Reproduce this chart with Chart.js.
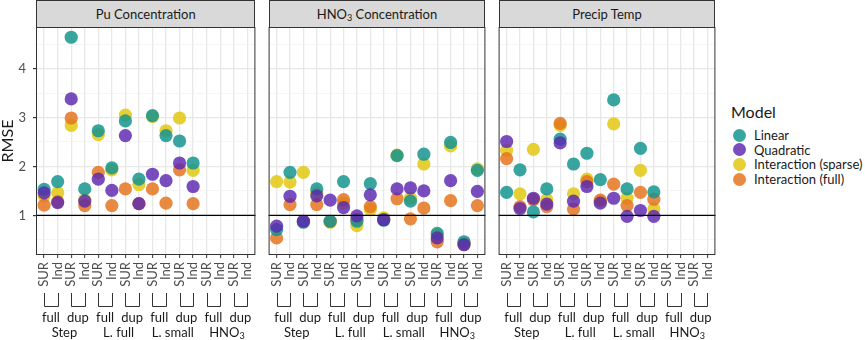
<!DOCTYPE html>
<html><head><meta charset="utf-8">
<script src="https://cdn.jsdelivr.net/npm/chart.js@4"></script>
<style>
html,body{margin:0;padding:0;background:#fff;}
#wrap{position:relative;width:865px;height:340px;overflow:hidden;font-family:Lato,sans-serif;}
canvas{position:absolute;top:0;}
.strip{position:absolute;top:0;height:27px;box-sizing:border-box;border:1px solid #333;border-bottom:none;background:#d9d9d9;color:#1a1a1a;font-size:13px;line-height:26px;text-align:center;white-space:nowrap;}
.lab{position:absolute;font-size:13px;line-height:16px;color:#1a1a1a;white-space:nowrap;transform:translateX(-50%);}
sub{font-size:70%;vertical-align:-0.25em;line-height:0;}
.legt{position:absolute;left:731px;top:102px;font-size:16px;line-height:19px;color:#1a1a1a;}
.legi{position:absolute;left:754px;font-size:13px;line-height:16px;color:#1a1a1a;white-space:nowrap;}
.legc{position:absolute;width:13px;height:13px;border-radius:50%;}
</style>
</head><body>
<div id="wrap">
<canvas id="c1" width="262" height="340" style="left:0px"></canvas>
<canvas id="c2" width="230" height="340" style="left:262px"></canvas>
<canvas id="c3" width="230" height="340" style="left:492px"></canvas>
</div>
<script>
// ---------- data ----------
const xTickLabels = ['SUR','Ind','SUR','Ind','SUR','Ind','SUR','Ind','SUR','Ind','SUR','Ind','SUR','Ind','SUR','Ind'];
const innerGroups = ['full','dup','full','dup','full','dup','full','dup'];
const outerGroups = ['Step','L. full','L. small','HNO3'];
const panelTitles = ['Pu Concentration','HNO3 Concentration','Precip Temp'];
const models = ['Linear','Quadratic','Interaction (sparse)','Interaction (full)'];
const yTickValues = [1,2,3,4];

// Pu Concentration
const puLinear    = [1.53,1.69,4.64,1.54,2.73,1.97,2.93,1.74,3.04,2.63,2.52,2.07,null,null,null,null];
const puQuadratic = [1.46,1.26,3.38,1.29,1.74,1.51,2.63,1.24,1.84,1.71,2.07,1.59,null,null,null,null];
const puSparse    = [1.40,1.46,2.84,1.32,2.65,1.93,3.05,1.63,3.02,2.73,2.99,1.92,null,null,null,null];
const puFull      = [1.21,1.28,2.99,1.20,1.88,1.20,1.54,1.24,1.54,1.25,1.93,1.24,null,null,null,null];

// HNO3 Concentration
const hnoLinear    = [0.71,1.88,0.86,1.54,0.88,1.69,0.88,1.65,0.90,2.22,1.29,2.25,0.63,2.49,0.46,1.92];
const hnoQuadratic = [0.78,1.39,0.88,1.40,1.31,1.16,0.99,1.42,0.91,1.54,1.56,1.50,0.54,1.71,0.40,1.49];
const hnoSparse    = [1.69,1.68,1.88,1.45,0.86,1.25,0.79,1.12,0.95,2.23,1.35,2.05,0.60,2.42,0.43,1.95];
const hnoFull      = [0.54,1.22,0.88,1.22,0.88,1.32,0.92,1.18,0.92,1.34,0.93,1.15,0.46,1.30,0.41,1.20];

// Precip Temp
const ptLinear    = [1.47,1.93,1.07,1.54,2.56,2.05,2.27,1.73,3.36,1.54,2.37,1.48,null,null,null,null];
const ptQuadratic = [2.51,1.14,1.35,1.23,2.48,1.29,1.59,1.25,1.35,0.98,1.10,0.98,null,null,null,null];
const ptSparse    = [2.33,1.44,2.35,1.32,2.84,1.44,1.74,1.29,2.87,1.35,1.92,1.13,null,null,null,null];
const ptFull      = [2.16,1.18,1.32,1.18,2.88,1.13,1.69,1.31,1.64,1.20,1.47,1.33,null,null,null,null];

// ---------- styles ----------
const modelColors = ['rgba(21,149,143,0.85)','rgba(92,38,176,0.82)','rgba(226,200,18,0.85)','rgba(228,118,32,0.85)'];
const drawOrder = [1,0,3,2];
const FONT = 'Lato';

const deco = {
  id:'deco',
  afterDatasetsDraw(chart){
    const {ctx, chartArea:a, scales:{x,y}} = chart;
    ctx.save();
    const y1 = y.getPixelForValue(1);
    ctx.strokeStyle='#000'; ctx.lineWidth=1.4;
    ctx.beginPath(); ctx.moveTo(a.left,y1); ctx.lineTo(a.right,y1); ctx.stroke();
    ctx.strokeStyle='#333'; ctx.lineWidth=1;
    ctx.strokeRect(a.left+0.5,a.top+0.5,a.right-a.left-1,a.bottom-a.top-1);
    for(let p=0;p<innerGroups.length;p++){
      const xa=Math.round(x.getPixelForValue(2*p))+0.5, xb=Math.round(x.getPixelForValue(2*p+1))+0.5;
      const y0=a.bottom+38, yb=a.bottom+51.5;
      ctx.beginPath(); ctx.moveTo(xa,y0); ctx.lineTo(xa,yb); ctx.lineTo(xb,yb); ctx.lineTo(xb,y0); ctx.stroke();
    }
    ctx.restore();
  }
};

const yGrid = [0.5,1,1.5,2,2.5,3,3.5,4,4.5];
function isMajor(c){ return c.tick && Number.isInteger(c.tick.value); }

function makeChart(id, series, showY){
  const datasets = models.map((m,k)=>({
    label:m,
    data: series[k].map((v,i)=> v==null?null:{x:i,y:v}).filter(Boolean),
    backgroundColor: modelColors[k],
    borderWidth:0, pointRadius:6.6, pointHoverRadius:6.6,
    order: drawOrder[k]
  }));
  return new Chart(document.getElementById(id),{
    type:'scatter',
    data:{datasets},
    options:{
      responsive:false, animation:false, events:[],
      layout:{padding:{top:27,right:showY?5:4,left:0,bottom:0}},
      plugins:{legend:{display:false},tooltip:{enabled:false}},
      scales:{
        x:{type:'linear',min:-0.6,max:15.6,
          afterBuildTicks:s=>{s.ticks=xTickLabels.map((_,i)=>({value:i}));},
          afterFit:s=>{s.height=85;s.paddingLeft=0;s.paddingRight=0;},
          grid:{color:'#e8e8e8',lineWidth:1.3,tickColor:'#333',tickLength:3,tickWidth:1},
          border:{display:false},
          ticks:{autoSkip:false,minRotation:90,maxRotation:90,padding:4,color:'#4d4d4d',
                 font:{family:FONT,size:13},callback:v=>xTickLabels[v]}
        },
        y:{min:0.19,max:4.85,
          afterBuildTicks:s=>{s.ticks=yGrid.map(v=>({value:v}));},
          afterFit:s=>{s.width=showY?36:5;},
          grid:{color:c=>isMajor(c)?'#e8e8e8':'#f1f1f1',lineWidth:c=>isMajor(c)?1.2:0.7,
                tickColor:c=>isMajor(c)?'#333':'rgba(0,0,0,0)',tickLength:3,drawTicks:showY},
          border:{display:false},
          ticks:{display:showY,autoSkip:false,padding:7,color:'#4d4d4d',font:{family:FONT,size:13},
                 callback:v=>yTickValues.includes(v)?String(v):''},
          title:{display:showY,text:'RMSE',color:'#1a1a1a',font:{family:FONT,size:16,lineHeight:1},padding:0}
        }
      }
    },
    plugins:[deco]
  });
}

function fmt(t){ return t.replace('HNO3','HNO<sub>3</sub>'); }

function build(){
  const wrap=document.getElementById('wrap');
  const defs=[
    {id:'c1',left:0,series:[puLinear,puQuadratic,puSparse,puFull],showY:true},
    {id:'c2',left:262,series:[hnoLinear,hnoQuadratic,hnoSparse,hnoFull],showY:false},
    {id:'c3',left:492,series:[ptLinear,ptQuadratic,ptSparse,ptFull],showY:false}
  ];
  defs.forEach((d,pi)=>{
    const ch=makeChart(d.id,d.series,d.showY);
    const a=ch.chartArea, x=ch.scales.x;
    const s=document.createElement('div'); s.className='strip';
    s.style.left=(d.left+a.left)+'px'; s.style.width=(a.right-a.left)+'px';
    s.innerHTML=fmt(panelTitles[pi]); wrap.appendChild(s);
    innerGroups.forEach((g,p)=>{
      const e=document.createElement('div'); e.className='lab';
      e.style.left=(d.left+x.getPixelForValue(2*p+0.5))+'px'; e.style.top='309px';
      e.textContent=g; wrap.appendChild(e);
    });
    outerGroups.forEach((g,q)=>{
      const e=document.createElement('div'); e.className='lab';
      e.style.left=(d.left+x.getPixelForValue(4*q+1.5))+'px'; e.style.top='324px';
      e.innerHTML=fmt(g); wrap.appendChild(e);
    });
  });
  const t=document.createElement('div'); t.className='legt'; t.textContent='Model'; wrap.appendChild(t);
  models.forEach((m,k)=>{
    const cy=135+14.67*k;
    const c=document.createElement('div'); c.className='legc';
    c.style.left=(739-6.5)+'px'; c.style.top=(cy-6.5)+'px'; c.style.background=modelColors[k];
    wrap.appendChild(c);
    const l=document.createElement('div'); l.className='legi';
    l.style.top=(cy-8)+'px'; l.textContent=m; wrap.appendChild(l);
  });
}
(document.fonts && document.fonts.load ? Promise.all([document.fonts.load('13px Lato'),document.fonts.load('16px Lato')]) : Promise.resolve()).then(build,build);
</script>
</body></html>
